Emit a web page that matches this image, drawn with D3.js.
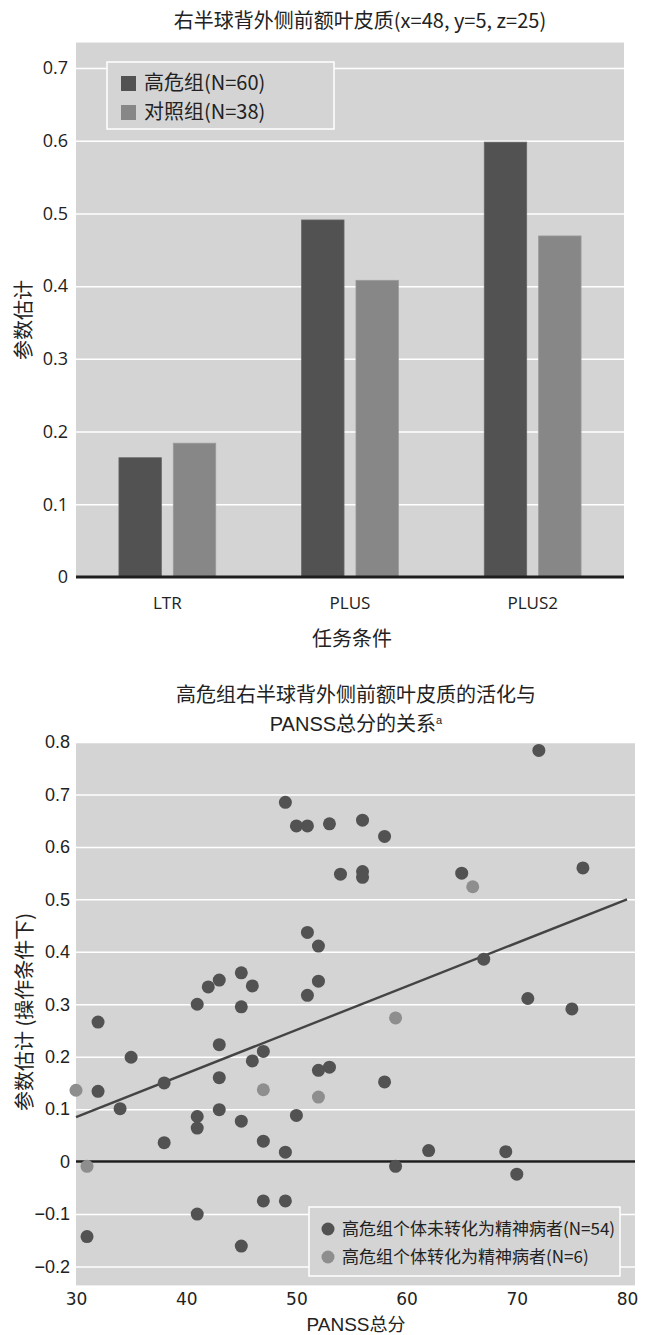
<!DOCTYPE html>
<html>
<head>
<meta charset="utf-8">
<script src="https://cdn.jsdelivr.net/npm/d3@7"></script>
<style>
  body { margin: 0; background: #fff; }
  svg { display: block; }
  .cjk { font-family: "Noto Sans CJK SC", "Noto Sans", sans-serif; }
</style>
</head>
<body>
<div id="chart"></div>
<script>
// ---- top chart data ----
var conditions = ['LTR', 'PLUS', 'PLUS2'];
var groups = ['高危组(N=60)', '对照组(N=38)'];
var highRisk = [0.164, 0.491, 0.598];
var control = [0.184, 0.408, 0.469];
var barTicks = [0, 0.1, 0.2, 0.3, 0.4, 0.5, 0.6, 0.7];

// ---- bottom chart data ----
var panssNon = [49, 50, 51, 53, 72, 56, 58, 54, 56, 56, 65, 76, 51, 52, 52, 51, 41, 42,
    43, 45, 46, 45, 32, 67, 71, 75, 35, 32, 34, 38, 38, 31, 43, 43, 43, 41, 41, 45,
    47, 46, 47, 49, 50, 47, 49, 41, 45, 52, 53, 58, 62, 69, 59, 70];
var estNon = [0.685, 0.640, 0.640, 0.644, 0.784, 0.651, 0.620, 0.548, 0.553, 0.542, 0.550,
    0.560, 0.437, 0.411, 0.344, 0.317, 0.300, 0.333, 0.346, 0.360, 0.335, 0.295, 0.266,
    0.386, 0.311, 0.291, 0.199, 0.134, 0.101, 0.150, 0.036, -0.143, 0.223, 0.160, 0.099,
    0.086, 0.064, 0.077, 0.210, 0.192, 0.039, 0.018, 0.088, -0.075, -0.075, -0.100,
    -0.161, 0.174, 0.180, 0.152, 0.021, 0.019, -0.009, -0.024];
var panssConv = [30, 31, 47, 52, 59, 66];
var estConv = [0.136, -0.009, 0.137, 0.123, 0.274, 0.524];
var fitX = [30, 80];
var fitY = [0.085, 0.50];
var scatterYTicks = [-0.2, -0.1, 0, 0.1, 0.2, 0.3, 0.4, 0.5, 0.6, 0.7, 0.8];
var scatterXTicks = [30, 40, 50, 60, 70, 80];
var scatterLegend = ['高危组个体未转化为精神病者(N=54)', '高危组个体转化为精神病者(N=6)'];

var dark = '#525252', light = '#878787', bg = '#d4d4d4';

var svg = d3.select('#chart').append('svg')
    .attr('width', 646)
    .attr('height', 1335);

// ================= top: bar chart =================
var x0 = d3.scaleBand().domain(conditions).range([76, 624]);
var x1 = d3.scaleBand().domain([0, 1]).range([0, x0.bandwidth()])
    .paddingInner(0.22).paddingOuter(0.79);
var yTop = d3.scaleLinear().domain([0, 0.7]).range([577, 68]);

svg.append('text')
    .attr('class', 'cjk')
    .attr('x', 360).attr('y', 28)
    .attr('text-anchor', 'middle')
    .style('font-size', '20px')
    .style('fill', '#222')
    .text('右半球背外侧前额叶皮质(x=48, y=5, z=25)');

svg.append('rect')
    .attr('x', 76).attr('y', yTop(0.735))
    .attr('width', 548).attr('height', yTop(0) - yTop(0.735))
    .style('fill', bg);

var topAxis = svg.append('g')
    .attr('transform', 'translate(76,0)')
    .call(d3.axisLeft(yTop).tickValues(barTicks).tickSize(-548)
        .tickFormat(function(d) { return d === 0 ? '0' : d3.format('.1f')(d); }));
topAxis.select('.domain').remove();
topAxis.selectAll('line').style('stroke', '#fff').style('stroke-width', 1.5);
topAxis.selectAll('text')
    .attr('x', -8)
    .style('font-family', '"Open Sans", sans-serif')
    .style('font-size', '18px')
    .style('fill', '#222');

var series = [highRisk, control];
svg.append('g').selectAll('g').data(conditions).enter().append('g')
    .attr('transform', function(d) { return 'translate(' + x0(d) + ',0)'; })
    .selectAll('rect')
    .data(function(d, i) { return [0, 1].map(function(s) { return { s: s, v: series[s][i] }; }); })
    .enter().append('rect')
        .attr('x', function(d) { return x1(d.s); })
        .attr('width', x1.bandwidth())
        .attr('y', function(d) { return yTop(d.v); })
        .attr('height', function(d) { return yTop(0) - yTop(d.v); })
        .style('fill', function(d) { return d.s === 0 ? dark : light; })
        .style('stroke', function(d) { return d.s === 0 ? '#666' : '#999'; })
        .style('stroke-width', 0.8);

svg.append('line')
    .attr('x1', 76).attr('x2', 624)
    .attr('y1', yTop(0)).attr('y2', yTop(0))
    .style('stroke', '#1e1e1e').style('stroke-width', 3);

var topX = svg.append('g')
    .attr('transform', 'translate(0,' + yTop(0) + ')')
    .call(d3.axisBottom(x0).tickSize(0).tickPadding(20));
topX.select('.domain').remove();
topX.selectAll('text')
    .style('font-family', '"Open Sans", sans-serif')
    .style('font-size', '17px')
    .style('fill', '#222');

svg.append('text')
    .attr('class', 'cjk')
    .attr('x', 352).attr('y', 646)
    .attr('text-anchor', 'middle')
    .style('font-size', '20px').style('fill', '#222')
    .text('任务条件');

svg.append('text')
    .attr('class', 'cjk')
    .attr('transform', 'translate(31,320) rotate(-90)')
    .attr('text-anchor', 'middle')
    .style('font-size', '20px').style('fill', '#222')
    .text('参数估计');

// legend
var lgTop = svg.append('g');
lgTop.append('rect')
    .attr('x', 107).attr('y', 62).attr('width', 227).attr('height', 67)
    .style('fill', bg).style('stroke', '#fff').style('stroke-width', 1.5);
groups.forEach(function(g, i) {
    lgTop.append('rect')
        .attr('x', 121).attr('y', 76 + i * 29).attr('width', 15).attr('height', 15)
        .style('fill', i === 0 ? dark : light);
    lgTop.append('text')
        .attr('class', 'cjk')
        .attr('x', 144).attr('y', 90 + i * 29)
        .style('font-size', '20px').style('fill', '#222')
        .text(g);
});

// ================= bottom: scatter =================
var xs = d3.scaleLinear().domain([30, 80]).range([76, 627]);
var ys = d3.scaleLinear().domain([-0.2, 0.8]).range([1266.5, 742]);

var t2 = svg.append('text')
    .attr('x', 356).attr('text-anchor', 'middle')
    .style('fill', '#222');
t2.append('tspan').attr('class', 'cjk').attr('x', 356).attr('y', 702)
    .style('font-size', '20px')
    .text('高危组右半球背外侧前额叶皮质的活化与');
var l2 = t2.append('tspan').attr('x', 356).attr('y', 731);
l2.append('tspan').style('font-family', '"Liberation Sans", Arial, sans-serif')
    .style('font-size', '20px').text('PANSS');
l2.append('tspan').attr('class', 'cjk').style('font-size', '20px').text('总分的关系');
l2.append('tspan').style('font-family', '"Liberation Sans", Arial, sans-serif')
    .style('font-size', '11px').attr('dy', -7).text('a');

svg.append('rect')
    .attr('x', 76).attr('y', ys(0.8))
    .attr('width', 559).attr('height', ys(-0.236) - ys(0.8))
    .style('fill', bg);

var sy = svg.append('g')
    .attr('transform', 'translate(76,0)')
    .call(d3.axisLeft(ys).tickValues(scatterYTicks).tickSize(-559)
        .tickFormat(function(d) { return d === 0 ? '0' : d3.format('.1f')(d); }));
sy.select('.domain').remove();
sy.selectAll('line').style('stroke', '#fff').style('stroke-width', 1.5);
sy.selectAll('text')
    .attr('x', -6)
    .style('font-family', '"Liberation Sans", Arial, sans-serif')
    .style('font-size', '18px')
    .style('fill', '#222');

svg.append('line')
    .attr('x1', 76).attr('x2', 635)
    .attr('y1', ys(0)).attr('y2', ys(0))
    .style('stroke', '#1e1e1e').style('stroke-width', 2.5);

var sx = svg.append('g')
    .attr('transform', 'translate(0,' + ys(-0.236) + ')')
    .call(d3.axisBottom(xs).tickValues(scatterXTicks).tickSize(0).tickPadding(8));
sx.select('.domain').remove();
sx.selectAll('text')
    .style('font-family', '"DejaVu Sans", sans-serif')
    .style('font-size', '17px')
    .style('fill', '#222');

var xl = svg.append('text')
    .attr('x', 356).attr('y', 1331)
    .attr('text-anchor', 'middle')
    .style('fill', '#222');
xl.append('tspan').style('font-family', '"Liberation Sans", Arial, sans-serif')
    .style('font-size', '19px').text('PANSS');
xl.append('tspan').attr('class', 'cjk').style('font-size', '18px').text('总分');

svg.append('text')
    .attr('class', 'cjk')
    .attr('transform', 'translate(32,1012) rotate(-90)')
    .attr('text-anchor', 'middle')
    .style('font-size', '20px').style('fill', '#222')
    .text('参数估计 (操作条件下)');

// regression line
svg.append('path')
    .datum(fitX.map(function(v, i) { return [v, fitY[i]]; }))
    .attr('d', d3.line().x(function(d) { return xs(d[0]); }).y(function(d) { return ys(d[1]); }))
    .style('stroke', '#444').style('stroke-width', 2.4).style('fill', 'none');

svg.append('g').selectAll('circle')
    .data(panssNon.map(function(v, i) { return [v, estNon[i]]; }))
    .enter().append('circle')
        .attr('cx', function(d) { return xs(d[0]); })
        .attr('cy', function(d) { return ys(d[1]); })
        .attr('r', 6.5)
        .style('fill', dark);

svg.append('g').selectAll('circle')
    .data(panssConv.map(function(v, i) { return [v, estConv[i]]; }))
    .enter().append('circle')
        .attr('cx', function(d) { return xs(d[0]); })
        .attr('cy', function(d) { return ys(d[1]); })
        .attr('r', 6.5)
        .style('fill', '#8e8e8e');

// legend
var lgB = svg.append('g');
lgB.append('rect')
    .attr('x', 309).attr('y', 1207).attr('width', 311).attr('height', 69)
    .style('fill', bg).style('stroke', '#fff').style('stroke-width', 1.5);
scatterLegend.forEach(function(t, i) {
    lgB.append('circle')
        .attr('cx', 328).attr('cy', 1229 + i * 28).attr('r', 6.5)
        .style('fill', i === 0 ? dark : '#8e8e8e');
    lgB.append('text')
        .attr('class', 'cjk')
        .attr('x', 342).attr('y', 1235 + i * 28)
        .style('font-size', '17px').style('fill', '#222')
        .text(t);
});
</script>
</body>
</html>
